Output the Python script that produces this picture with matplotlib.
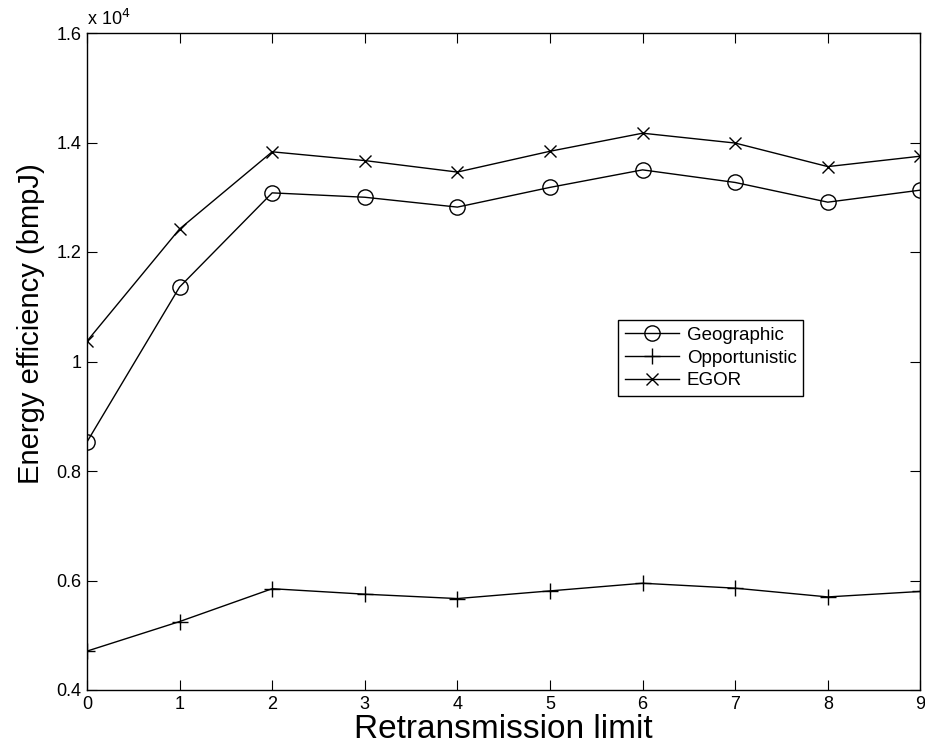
import matplotlib
matplotlib.use('Agg')
import matplotlib.pyplot as plt

plt.rcParams['font.family'] = ['Liberation Sans', 'DejaVu Sans']

# retransmission limit
limits = [0, 1, 2, 3, 4, 5, 6, 7, 8, 9]
# energy efficiency, in units of 10^4 bmpJ
geographic = [0.853, 1.136, 1.308, 1.300, 1.282, 1.318, 1.350, 1.327, 1.291, 1.313]
opportunistic = [0.471, 0.525, 0.585, 0.575, 0.567, 0.581, 0.595, 0.586, 0.570, 0.580]
egor = [1.037, 1.242, 1.383, 1.367, 1.346, 1.384, 1.417, 1.399, 1.356, 1.375]

yticks = [0.4, 0.6, 0.8, 1.0, 1.2, 1.4, 1.6]
ytick_labels = ['0.4', '0.6', '0.8', '1', '1.2', '1.4', '1.6']

fig = plt.figure(figsize=(9.25, 7.5), dpi=100)
ax = fig.add_axes([0.094, 0.08, 0.901, 0.876])

ax.plot(limits, geographic, color='black', lw=1, marker='o', ms=11,
        mfc='none', mew=1, label='Geographic')
ax.plot(limits, opportunistic, color='black', lw=1, marker='+', ms=12,
        mew=1, label='Opportunistic')
ax.plot(limits, egor, color='black', lw=1, marker='x', ms=8,
        mew=1, label='EGOR')

ax.set_xlim(0, 9)
ax.set_ylim(0.4, 1.6)
ax.set_xticks(limits)
ax.set_yticks(yticks)
ax.set_yticklabels(ytick_labels)
ax.tick_params(direction='in', top=True, right=True, labelsize=13, length=7, width=0.8)
ax.tick_params(axis='x', pad=4)
ax.tick_params(axis='y', pad=4)
for s in ax.spines.values():
    s.set_linewidth(1)

ax.text(0.0, 1.006, r'x 10$^4$', transform=ax.transAxes, fontsize=13,
        ha='left', va='bottom')

ax.set_xlabel('Retransmission limit', fontsize=24, labelpad=1)
ax.set_ylabel('Energy efficiency (bmpJ)', fontsize=21)
ax.yaxis.set_label_coords(-0.05, 0.557)

leg = ax.legend(loc='upper left', bbox_to_anchor=(0.6375, 0.563), borderaxespad=0,
                fancybox=False, edgecolor='black', fontsize=13.5, handlelength=2.9,
                labelspacing=0.3, handletextpad=0.4, borderpad=0.35, framealpha=1)
leg.get_frame().set_linewidth(1)

fig.savefig('out.png', dpi=100)
